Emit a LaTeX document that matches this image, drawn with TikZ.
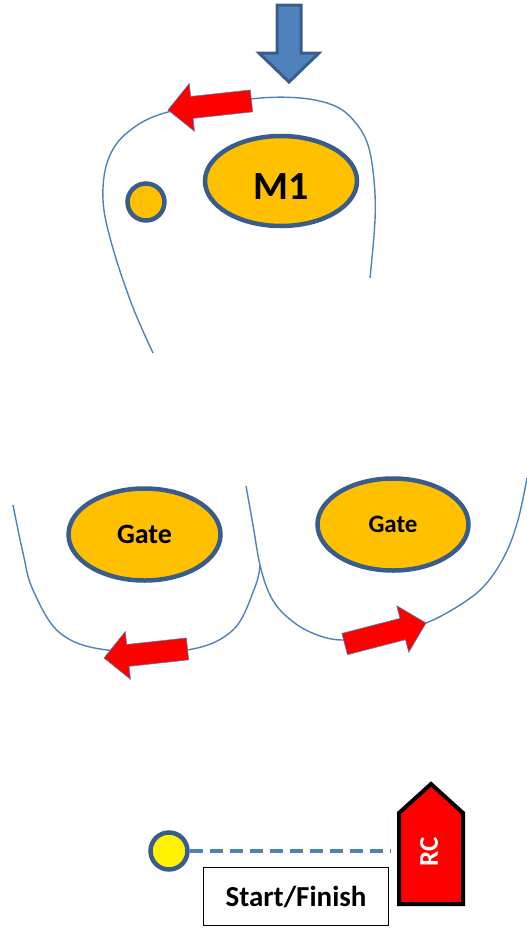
\documentclass[tikz,border=0pt]{standalone}
\usepackage{fontspec}
\setmainfont{Carlito}
\usetikzlibrary{shapes.geometric}

\definecolor{lineblue}{RGB}{79,129,189}
\definecolor{edgeblue}{RGB}{56,93,138}
\definecolor{markorange}{RGB}{255,192,0}

\tikzset{
	course/.style={lineblue, line width=1.4pt},
	markshape/.style={ellipse, draw=edgeblue, line width=4.5pt, fill=markorange, inner sep=0pt},
	pics/turnarrow/.style={code={
		\draw[fill=red, draw=lineblue, line width=0.6pt] (0,0) -- (-24,-24) -- (-24,-11) -- (-84,-11) -- (-84,11) -- (-24,11) -- (-24,24) -- cycle;
	}}
}

\begin{document}
\begin{tikzpicture}[x=1pt, y=-1pt]
				\useasboundingbox (0,0) rectangle (527,930);

				% wind
				\draw[fill=lineblue, draw=edgeblue, line width=3pt] (277,5) -- (301,5) -- (301,53) -- (319,53) -- (289,82) -- (259,53) -- (277,53) -- cycle;

				% windward mark
				\draw[course] plot[smooth, tension=0.6] coordinates {(153,353) (132,305) (112,245) (103,200) (108,160) (128,132) (168,112) (250,99) (300,98) (335,106) (355,122) (368,145) (374,180) (375,220) (370,278)};
				\pic[rotate=186.2] (toparrow) at (168,110) {turnarrow};
				\node[circle, draw=edgeblue, line width=4.5pt, fill=markorange, inner sep=0pt, minimum size=37pt] (offset) at (146,202) {};
				\node[markshape, minimum width=152pt, minimum height=90pt, label={[font=\bfseries\fontsize{40}{41}\selectfont, yshift=-6pt]center:M1}] (m1) at (281,181) {};

				% gate
				\draw[course] plot[smooth, tension=0.6] coordinates {(13,505) (23,553) (33,590) (60,633) (107,650) (187,650) (233,630) (255,587) (260,565)};
				\draw[course] plot[smooth, tension=0.6] coordinates {(246,486) (253,525) (260,565) (270,595) (285,615) (310,632) (343,640) (390,632) (426,623) (460,605) (485,585) (505,555) (518,520) (527,478)};
				\pic[rotate=186.2] (leftarrow) at (104,658) {turnarrow};
				\pic[rotate=14.5] (rightarrow) at (426,623) {turnarrow};
				\node[markshape, minimum width=152pt, minimum height=92pt, font=\bfseries\fontsize{28}{29}\selectfont] (gateleft) at (144.5,534.5) {Gate};
				\node[markshape, minimum width=151pt, minimum height=92pt, font=\bfseries\fontsize{25}{26}\selectfont] (gateright) at (393,524.5) {Gate};

				% start line
				\draw[fill=red, line width=4pt] (399,813) -- (431,784) -- (463,813) -- (463,904) -- (399,904) -- cycle;
				\node[white, rotate=90, font=\bfseries\fontsize{27}{28}\selectfont] (rc) at (429,852) {RC};
				\node[circle, draw=edgeblue, line width=4.5pt, fill=yellow, inner sep=0pt, minimum size=37pt] (pin) at (169,851) {};
				\coordinate (lineend) at (390,851);
				\draw[lineblue, line width=3.5pt, dash pattern=on 13pt off 7pt] (pin) -- (lineend);
				\node[draw, line width=1pt, minimum width=185pt, minimum height=58pt, font=\bfseries\fontsize{29}{30}\selectfont] (startfinish) at (296,896.5) {Start/Finish};
			\end{tikzpicture}
\end{document}
